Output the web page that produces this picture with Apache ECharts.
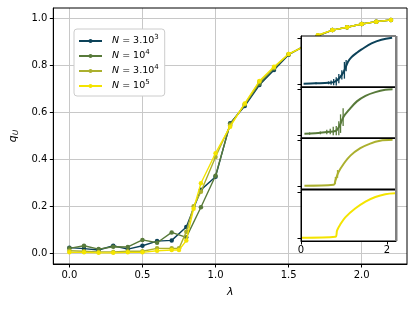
<!DOCTYPE html>
<html><head><meta charset="utf-8">
<script src="https://cdn.jsdelivr.net/npm/echarts@6/dist/echarts.min.js"></script>
<style>html,body{margin:0;padding:0;background:#fff}#c{width:415px;height:310px}</style>
</head><body><div id="c"></div>
<script>
// ---- main panel data ----
const seriesNames = ['N=3.10^3', 'N=10^4', 'N=3.10^4', 'N=10^5'];
const lambdaCoarse = [0,0.1,0.2,0.3,0.4,0.5,0.6,0.7,0.8,0.9,1.0,1.1,1.2,1.3,1.4,1.5,1.6,1.7,1.8,1.9,2.0,2.1,2.2];
const lambdaFine = [0,0.1,0.2,0.3,0.4,0.5,0.6,0.7,0.75,0.8,0.85,0.9,1.0,1.1,1.2,1.3,1.4,1.5,1.6,1.7,1.8,1.9,2.0,2.1,2.2];
const qN3e3 = [0.024,0.020,0.014,0.032,0.018,0.032,0.052,0.055,0.112,0.270,0.326,0.553,0.627,0.716,0.780,0.845,0.880,0.925,0.950,0.962,0.976,0.986,0.993];
const qN1e4 = [0.021,0.032,0.018,0.028,0.027,0.057,0.045,0.089,0.068,0.196,0.330,0.550,0.632,0.722,0.787,0.847,0.880,0.926,0.950,0.962,0.976,0.986,0.993];
const qN3e4 = [0.011,0.009,0.006,0.006,0.009,0.009,0.021,0.021,0.021,0.092,0.200,0.262,0.410,0.545,0.635,0.730,0.790,0.848,0.879,0.928,0.950,0.962,0.976,0.986,0.993];
const qN1e5 = [0.004,0.004,0.002,0.002,0.004,0.004,0.011,0.014,0.014,0.054,0.190,0.298,0.426,0.539,0.638,0.733,0.794,0.848,0.879,0.928,0.950,0.962,0.976,0.986,0.993];
const xTicks = [0, 0.5, 1.0, 1.5, 2.0];
const yTicks = [0, 0.2, 0.4, 0.6, 0.8, 1.0];

// ---- inset data ----
const inX1 = [0.06,0.33,0.64,0.78,0.90,1.00,1.09,1.17,1.30,1.41,1.64,1.87,2.12];
const inY1 = [0.01,0.02,0.03,0.05,0.14,0.28,0.48,0.58,0.68,0.75,0.88,0.96,1.00];
const inX2 = [0.08,0.33,0.60,0.80,0.90,0.99,1.11,1.30,1.50,1.73,1.96,2.13];
const inY2 = [0.03,0.04,0.07,0.09,0.21,0.40,0.54,0.73,0.85,0.93,0.98,0.99];
const inX3 = [0.08,0.76,0.80,0.87,0.99,1.15,1.38,1.61,1.84,2.13];
const inY3 = [0.01,0.03,0.12,0.30,0.48,0.66,0.82,0.92,0.98,1.00];
const inX4 = [0.00,0.80,0.84,0.91,1.03,1.26,1.50,1.73,1.96,2.19];
const inY4 = [0.01,0.03,0.17,0.29,0.45,0.64,0.79,0.89,0.95,0.97];
// error bars (x, low, high)
const errX1 = [0.35,0.64,0.70,0.76,0.82,0.88,0.95,1.01,1.05];
const errLo1 = [0.00,0.00,-0.01,-0.02,-0.03,0.02,0.10,0.12,0.28];
const errHi1 = [0.04,0.06,0.08,0.11,0.15,0.22,0.30,0.48,0.52];
const errX2 = [0.20,0.45,0.60,0.68,0.75,0.82,0.88,0.92,0.98];
const errLo2 = [0.01,0.02,0.02,0.02,0.00,0.00,0.00,0.05,0.20];
const errHi2 = [0.06,0.08,0.12,0.14,0.18,0.20,0.30,0.45,0.58];
const errX3 = [0.80,0.85];
const errLo3 = [0.05,0.18];
const errHi3 = [0.20,0.35];
const insetXTicks = [0, 2];
const insetYTicks = [0, 1];

const colors = ['#0c4259', '#587a3a', '#abb02e', '#f4e400'];
const FONT = 'DejaVu Sans';
const zip = (xs, ys) => xs.map((x, i) => [x, ys[i]]);

const chart = echarts.init(document.getElementById('c'), null, {renderer: 'canvas'});

const mainX = [lambdaCoarse, lambdaCoarse, lambdaFine, lambdaFine];
const mainY = [qN3e3, qN1e4, qN3e4, qN1e5];

const grids = [{left: 52, top: 8, width: 355, height: 256, show: true, borderColor: '#000', borderWidth: 1, z: 1}];
const insetTops = [36, 87, 138, 190];
insetTops.forEach(t => grids.push({left: 301, top: t, width: 95, height: 51, show: true, backgroundColor: '#fff', borderColor: '#000', borderWidth: 1, z: 10}));

const xAxes = [{
  gridIndex: 0, type: 'value', min: -0.11, max: 2.31,
  axisLine: {show: true, onZero: false, lineStyle: {color: '#000', width: 1}},
  axisTick: {show: true, inside: false, length: 3.5, lineStyle: {color: '#000'}, customValues: xTicks},
  axisLabel: {customValues: xTicks, formatter: v => v.toFixed(1), color: '#000', fontFamily: FONT, fontSize: 10, margin: 6},
  splitLine: {show: true, lineStyle: {color: '#c8c8c8', width: 1}},
  name: 'λ', nameLocation: 'middle', nameGap: 23,
  nameTextStyle: {fontFamily: FONT, fontStyle: 'italic', fontSize: 11, color: '#000'}
}];
const yAxes = [{
  gridIndex: 0, type: 'value', min: -0.0455, max: 1.044,
  axisLine: {show: true, onZero: false, lineStyle: {color: '#000', width: 1}},
  axisTick: {show: true, inside: false, length: 3.5, lineStyle: {color: '#000'}, customValues: yTicks},
  axisLabel: {customValues: yTicks, formatter: v => v.toFixed(1), color: '#000', fontFamily: FONT, fontSize: 10, margin: 6},
  splitLine: {show: true, lineStyle: {color: '#c8c8c8', width: 1}},
  name: '{q|q}{s|U}', nameLocation: 'middle', nameGap: 30, nameRotate: 90,
  nameTextStyle: {rich: {
    q: {fontFamily: FONT, fontStyle: 'italic', fontSize: 11, color: '#000', lineHeight: 14, verticalAlign: 'middle'},
    s: {fontFamily: FONT, fontStyle: 'italic', fontSize: 7.5, color: '#000', lineHeight: 14, verticalAlign: 'bottom'}
  }}
}];
for (let i = 0; i < 4; i++) {
  const last = i === 3;
  xAxes.push({
    gridIndex: i + 1, type: 'value', min: 0, max: 2.21, z: 12,
    axisLine: {show: true, onZero: false, lineStyle: {color: '#000'}},
    axisTick: {show: last, length: 3.5, customValues: insetXTicks, lineStyle: {color: '#000'}},
    axisLabel: {show: last, customValues: insetXTicks, color: '#000', fontFamily: FONT, fontSize: 10, margin: 4},
    splitLine: {show: false}
  });
  yAxes.push({
    gridIndex: i + 1, type: 'value', min: -0.06, max: 1.04, z: 12,
    axisLine: {show: true, onZero: false, lineStyle: {color: '#000'}},
    axisTick: {show: true, length: 3.5, customValues: insetYTicks, lineStyle: {color: '#000'}},
    axisLabel: {show: false},
    splitLine: {show: false}
  });
}

const series = [];
for (let i = 0; i < 4; i++) {
  series.push({
    name: seriesNames[i], type: 'line', xAxisIndex: 0, yAxisIndex: 0,
    data: zip(mainX[i], mainY[i]), color: colors[i],
    symbol: 'circle', symbolSize: 4.5, showSymbol: true,
    lineStyle: {width: 1.4, color: colors[i]}, itemStyle: {color: colors[i]},
    z: 2 + i, animation: false
  });
}
const inX = [inX1, inX2, inX3, inX4], inY = [inY1, inY2, inY3, inY4];
for (let i = 0; i < 4; i++) {
  series.push({
    type: 'line', xAxisIndex: i + 1, yAxisIndex: i + 1,
    data: zip(inX[i], inY[i]), smooth: 0.35, showSymbol: false, symbol: 'none',
    lineStyle: {width: 2, color: colors[i]}, z: 11, animation: false, silent: true
  });
}
const errs = [[errX1, errLo1, errHi1], [errX2, errLo2, errHi2], [errX3, errLo3, errHi3]];
errs.forEach((e, i) => {
  series.push({
    type: 'custom', xAxisIndex: i + 1, yAxisIndex: i + 1, z: 11, animation: false, silent: true,
    data: e[0].map((x, k) => [x, e[1][k], e[2][k]]),
    renderItem: (params, api) => {
      const p1 = api.coord([api.value(0), api.value(1)]);
      const p2 = api.coord([api.value(0), api.value(2)]);
      return {type: 'line', shape: {x1: p1[0], y1: p1[1], x2: p2[0], y2: p2[1]},
        style: {stroke: colors[i], lineWidth: 1.3}};
    }
  });
});

chart.setOption({
  animation: false,
  backgroundColor: '#fff',
  grid: grids, xAxis: xAxes, yAxis: yAxes, series: series,
  legend: {
    data: seriesNames, orient: 'vertical', left: 74, top: 29,
    itemWidth: 23, itemHeight: 5, itemGap: 3,
    padding: [5, 6, 5, 4],
    backgroundColor: '#fff', borderColor: '#cccccc', borderWidth: 1, borderRadius: 3,
    formatter: name => {
      const [lhs, rhs] = name.split('=');
      const [base, exp] = rhs.split('^');
      return '{i|' + lhs + '}{n| = ' + base + '}{s|' + exp + '}';
    },
    textStyle: {rich: {
      i: {fontFamily: FONT, fontStyle: 'italic', fontSize: 9.5, color: '#000', lineHeight: 14, padding: [0, 0, 0, 5]},
      n: {fontFamily: FONT, fontSize: 9.5, color: '#000', lineHeight: 14},
      s: {fontFamily: FONT, fontSize: 7, color: '#000', lineHeight: 14, verticalAlign: 'top'}
    }}
  },
  graphic: [{type: 'rect', shape: {x: 395, y: 36, width: 2.5, height: 205}, style: {fill: '#7f7f7f'}, z: 100}]
});
</script></body></html>
